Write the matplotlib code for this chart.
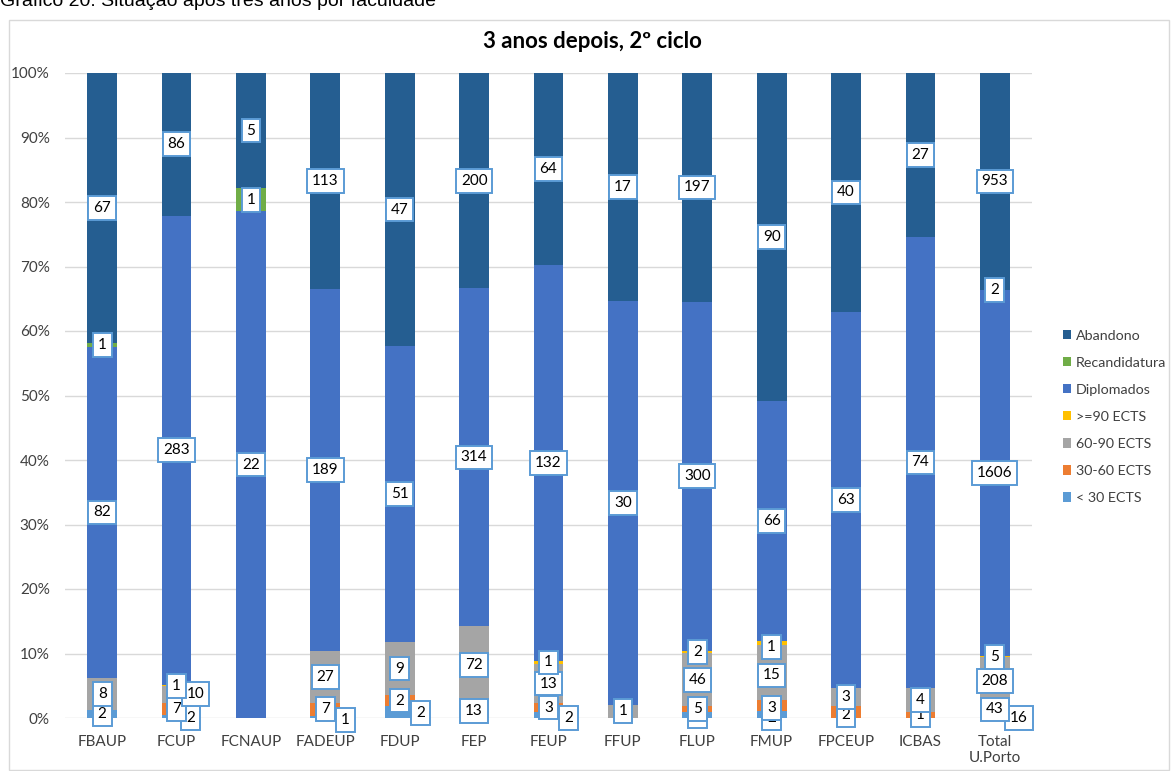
import matplotlib.pyplot as plt
import numpy as np

plt.rcParams['font.family'] = ['Lato', 'DejaVu Sans']

categories = ["FBAUP", "FCUP", "FCNAUP", "FADEUP", "FDUP", "FEP", "FEUP", "FFUP",
              "FLUP", "FMUP", "FPCEUP", "ICBAS", "Total\nU.Porto"]
series_names = ["< 30 ECTS", "30-60 ECTS", "60-90 ECTS", ">=90 ECTS",
                "Diplomados", "Recandidatura", "Abandono"]

lt30 = [2, 2, 0, 1, 2, 0, 2, 0, 5, 2, 0, 0, 16]
ects30_60 = [0, 7, 0, 7, 2, 13, 3, 0, 5, 3, 2, 1, 43]
ects60_90 = [8, 10, 0, 27, 9, 72, 13, 1, 46, 15, 3, 4, 208]
ge90 = [0, 1, 0, 0, 0, 0, 1, 0, 2, 1, 0, 0, 5]
diplomados = [82, 283, 22, 189, 51, 314, 132, 30, 300, 66, 63, 74, 1606]
recandidatura = [1, 0, 1, 0, 0, 0, 0, 0, 0, 0, 0, 0, 2]
abandono = [67, 86, 5, 113, 47, 200, 64, 17, 197, 90, 40, 27, 953]

colors = ["#5B9BD5", "#ED7D31", "#A5A5A5", "#FFC000", "#4472C4", "#70AD47", "#255E91"]

# label nudges (pixels) where Excel labels were moved to avoid overlap
nudges = {(1, 0): (14, -2), (1, 2): (19, 1), (3, 0): (20, -3), (4, 0): (21, -1),
          (6, 0): (20, -3), (12, 0): (24, -2), (8, 0): (0, -1), (9, 0): (0, -4),
          (9, 1): (0, -3), (9, 2): (0, -3), (9, 3): (0, -4), (10, 1): (0, -3)}

data = np.array([lt30, ects30_60, ects60_90, ge90, diplomados, recandidatura, abandono], dtype=float)
totals = data.sum(axis=0)
pct = data / totals * 100

fig = plt.figure(figsize=(11.72, 7.71), dpi=100)
ax = fig.add_axes([65 / 1172, 53 / 771, 967 / 1172, 645 / 771])

x = np.arange(len(categories))
bottom = np.zeros(len(categories))
for i, name in enumerate(series_names):
    ax.bar(x, pct[i], bottom=bottom, width=0.4, color=colors[i], label=name, zorder=2)
    for j in range(len(categories)):
        if data[i, j] == 0:
            continue
        dx, dy = nudges.get((j, i), (0, 0))
        ax.annotate(str(int(data[i, j])), (x[j], bottom[j] + pct[i, j] / 2),
                    xytext=(dx, dy), textcoords="offset pixels",
                    ha="center", va="center", fontsize=11, color="#000000", zorder=5,
                    bbox=dict(boxstyle="square,pad=0.32", fc="white", ec="#5B9BD5", lw=1.4))
    bottom += pct[i]

ax.set_xlim(-0.5, len(categories) - 0.5)
ax.set_ylim(0, 100)
ax.set_yticks(np.arange(0, 101, 10))
ax.set_yticklabels([f"{v}%" for v in range(0, 101, 10)])
ax.set_xticks(x)
ax.set_xticklabels(categories)
ax.tick_params(axis="both", length=0, labelsize=11, labelcolor="#404040")
ax.tick_params(axis="y", pad=11)
ax.tick_params(axis="x", pad=12)
ax.yaxis.grid(True, color="#D9D9D9", lw=1, zorder=0)
ax.set_axisbelow(True)
for s in ax.spines.values():
    s.set_visible(False)

handles, labels = ax.get_legend_handles_labels()
fig.legend(handles[::-1], labels[::-1], loc="center left", bbox_to_anchor=(1050 / 1172, 1 - 417 / 771),
           frameon=False, fontsize=10.3, handlelength=0.6, handleheight=0.6,
           handletextpad=0.3, labelspacing=1.05, labelcolor="#404040")

fig.text(592 / 1172, 1 - 42 / 771, "3 anos depois, 2º ciclo", ha="center", va="center",
         fontsize=16, fontweight="bold", color="#000000")
fig.text(0, 1 - 6 / 771, "Gráfico 20: Situação após três anos por faculdade", ha="left",
         va="baseline", fontsize=14, family="Liberation Sans", color="#000000")

fig.patches.append(plt.Rectangle((9 / 1172, 1 / 771), 1160 / 1172, 750 / 771,
                                 transform=fig.transFigure, fill=False, ec="#D9D9D9", lw=1))

fig.savefig("out.png", dpi=100)
